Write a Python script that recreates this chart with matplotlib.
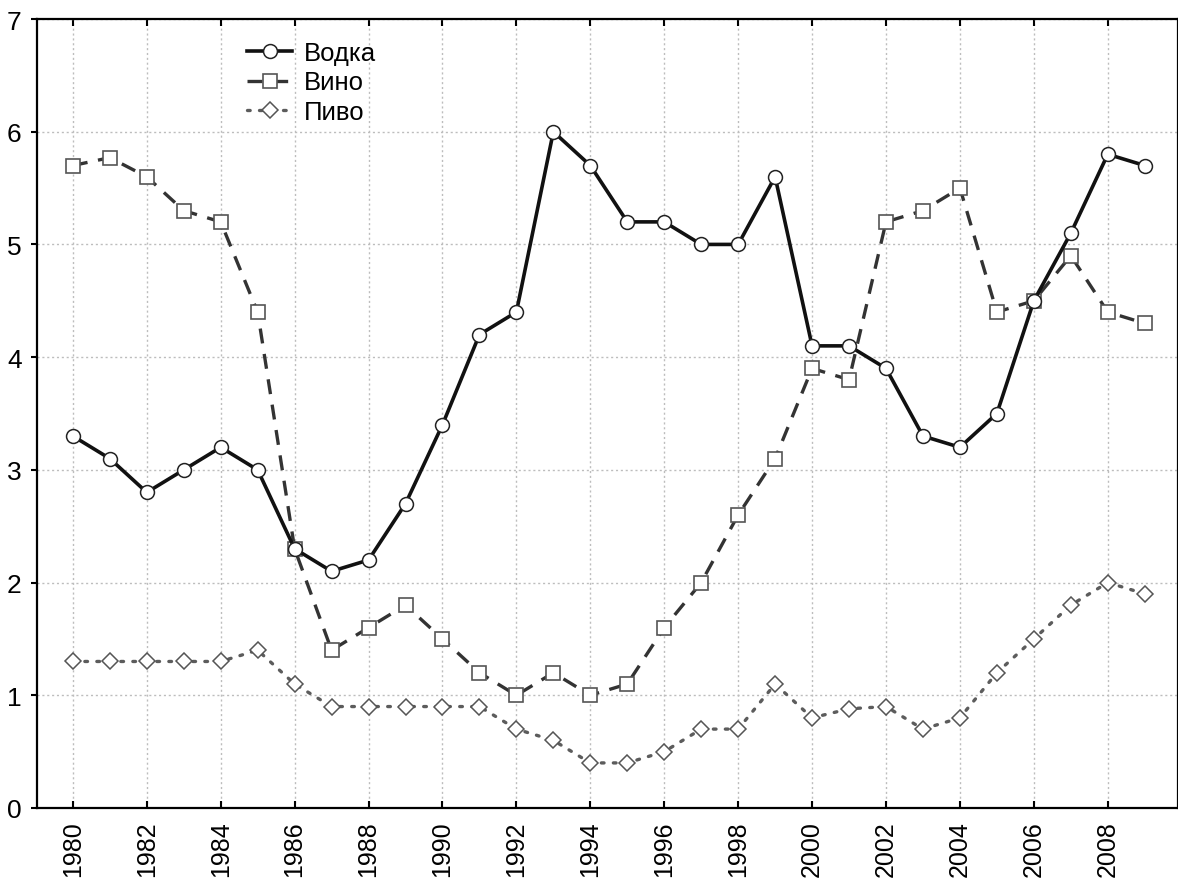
import numpy as np
import matplotlib
matplotlib.use('Agg')
import matplotlib.pyplot as plt

plt.rcParams['font.family'] = ['Liberation Sans', 'DejaVu Sans']

# data
years = list(range(1980, 2010))
vodka = [3.3, 3.1, 2.8, 3.0, 3.2, 3.0, 2.3, 2.1, 2.2, 2.7,
         3.4, 4.2, 4.4, 6.0, 5.7, 5.2, 5.2, 5.0, 5.0, 5.6,
         4.1, 4.1, 3.9, 3.3, 3.2, 3.5, 4.5, 5.1, 5.8, 5.7]
wine = [5.7, 5.77, 5.6, 5.3, 5.2, 4.4, 2.3, 1.4, 1.6, 1.8,
        1.5, 1.2, 1.0, 1.2, 1.0, 1.1, 1.6, 2.0, 2.6, 3.1,
        3.9, 3.8, 5.2, 5.3, 5.5, 4.4, 4.5, 4.9, 4.4, 4.3]
beer = [1.3, 1.3, 1.3, 1.3, 1.3, 1.4, 1.1, 0.9, 0.9, 0.9,
        0.9, 0.9, 0.7, 0.6, 0.4, 0.4, 0.5, 0.7, 0.7, 1.1,
        0.8, 0.88, 0.9, 0.7, 0.8, 1.2, 1.5, 1.8, 2.0, 1.9]
labels = ['Водка', 'Вино', 'Пиво']

fig = plt.figure(figsize=(11.78, 8.79), dpi=100)
ax = fig.add_axes([37/1178, 70/879, (1178-37)/1178, (809-20)/879])

# dotted grid behind the lines
ax.grid(True, color='#bdbdbd', linestyle=(0, (1.5, 2)), linewidth=1)
ax.set_axisbelow(True)

ax.plot(years, wine, color='#333333', linewidth=2.4, dashes=(4.5, 3.2),
        marker='s', markersize=9.5, markerfacecolor='white',
        markeredgecolor='#555555', markeredgewidth=1.2, label=labels[1], zorder=3)
ax.plot(years, beer, color='#5c5c5c', linewidth=2.4, dashes=(0.8, 2.8),
        dash_capstyle='round', marker='D', markersize=8.5,
        markerfacecolor='white', markeredgecolor='#555555',
        markeredgewidth=1.1, label=labels[2], zorder=3)
ax.plot(years, vodka, color='#111111', linewidth=2.6, marker='o',
        markersize=10, markerfacecolor='white', markeredgecolor='#222222',
        markeredgewidth=1.1, label=labels[0], zorder=4)

ax.set_xlim(1979.03, 2009.9)
ax.set_ylim(0, 7)
ax.set_xticks(range(1980, 2010, 2))
ax.set_yticks(range(0, 8))
ax.tick_params(axis='x', direction='in', length=5, width=1.5, top=True,
               labelsize=18, labelrotation=90, pad=9)
ax.tick_params(axis='y', direction='out', length=4, width=1.5, labelsize=19, pad=7)
ax.tick_params(axis='y', which='both', right=True)
for side in ['left', 'bottom', 'top', 'right']:
    ax.spines[side].set_linewidth(1.6)

handles, labs = ax.get_legend_handles_labels()
order = [2, 0, 1]
ax.legend([handles[i] for i in order], [labs[i] for i in order],
          loc='upper left', bbox_to_anchor=(0.165, 1.0), frameon=False,
          fontsize=18.5, handlelength=1.75, handletextpad=0.45,
          labelspacing=0.22, borderaxespad=0.45)

fig.savefig('out.png', dpi=100)
